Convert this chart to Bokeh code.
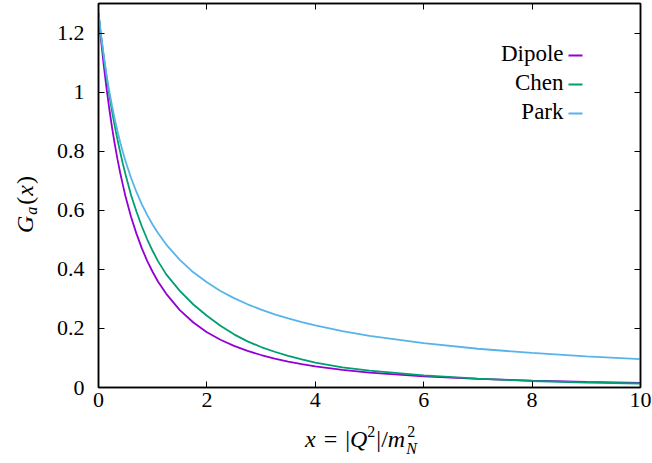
from bokeh.plotting import figure
from bokeh.models import Range1d, LinearAxis, FixedTicker, Label, BoxAnnotation, Div
from bokeh.layouts import column, row
from bokeh.embed import file_html
from bokeh.resources import INLINE

# ---------------- data ----------------
x_vals = [0, 0.05, 0.1, 0.15, 0.2, 0.25, 0.3, 0.35, 0.4, 0.45, 0.5, 0.6, 0.7,
          0.8, 0.9, 1.0, 1.1, 1.25, 1.5, 1.75, 2.0, 2.25, 2.5, 2.75, 3.0, 3.25,
          3.5, 3.75, 4.0, 4.5, 5.0, 6.0, 7.0, 8.0, 9.0, 10.0]
dipole = [1.267, 1.171, 1.086, 1.010, 0.942, 0.880, 0.824, 0.773, 0.727, 0.685,
          0.646, 0.578, 0.521, 0.471, 0.428, 0.391, 0.358, 0.317, 0.262, 0.220,
          0.187, 0.1616, 0.141, 0.1237, 0.110, 0.0978, 0.0877, 0.0792, 0.0718,
          0.0598, 0.0507, 0.0377, 0.0291, 0.0231, 0.0188, 0.0156]
chen = [1.267, 1.185, 1.115, 1.048, 0.990, 0.935, 0.885, 0.839, 0.797, 0.757,
        0.720, 0.652, 0.596, 0.545, 0.501, 0.462, 0.427, 0.383, 0.327, 0.281,
        0.243, 0.209, 0.180, 0.156, 0.137, 0.121, 0.107, 0.095, 0.084,
        0.068, 0.057, 0.041, 0.030, 0.022, 0.017, 0.0135]
park = [1.267, 1.188, 1.119, 1.057, 1.002, 0.953, 0.908, 0.8675, 0.830, 0.7965,
        0.765, 0.710, 0.662, 0.620, 0.5836, 0.551, 0.522, 0.484, 0.432, 0.390,
        0.356, 0.3269, 0.3025, 0.2817, 0.2636, 0.2477, 0.2337, 0.2212, 0.210,
        0.191, 0.1747, 0.150, 0.1312, 0.117, 0.1052, 0.0958]
series_names = ["Dipole", "Chen", "Park"]
series_colors = ["#9400d3", "#009e73", "#56b4e9"]

x_ticks = [0, 2, 4, 6, 8, 10]
x_tick_labels = ["0", "2", "4", "6", "8", "10"]
y_ticks = [0, 0.2, 0.4, 0.6, 0.8, 1, 1.2]
y_tick_labels = ["0", "0.2", "0.4", "0.6", "0.8", "1", "1.2"]

# ---------------- geometry (picture pixels) ----------------
W, H = 652, 463
YLAB_W = 40              # column holding the rotated y label
FIG_H = 428              # figure height; x label strip below
FX0, FX1, FY0, FY1 = 98, 640, 387, 3
XMAX, YMAX = 10.0, 1.3


def dx(px):
    return (px - FX0) / (FX1 - FX0) * XMAX


def dy(py):
    return (FY0 - py) / (FY0 - FY1) * YMAX


SERIF = "Liberation Serif"

p = figure(width=W - YLAB_W, height=FIG_H, x_range=Range1d(0, XMAX),
           y_range=Range1d(0, YMAX), output_backend="svg", toolbar_location=None,
           min_border_left=FX0 - YLAB_W, min_border_right=W - FX1, min_border_top=FY1,
           min_border_bottom=FIG_H - FY0, margin=(0, 0, 0, 0))
p.background_fill_color = "white"
p.border_fill_color = "white"
p.outline_line_color = "black"
p.outline_line_width = 1.5
p.grid.visible = False

p.add_layout(LinearAxis(), "above")
p.add_layout(LinearAxis(), "right")

for ax in p.xaxis:
    ax.ticker = FixedTicker(ticks=x_ticks)
    ax.major_label_overrides = {t: l for t, l in zip(x_ticks, x_tick_labels)}
for ax in p.yaxis:
    ax.ticker = FixedTicker(ticks=y_ticks)
    ax.major_label_overrides = {t: l for t, l in zip(y_ticks, y_tick_labels)}

for ax in p.xaxis + p.yaxis:
    ax.axis_line_color = "black"
    ax.axis_line_width = 1.5
    ax.major_tick_line_color = "black"
    ax.major_tick_line_width = 1
    ax.major_tick_in = 6
    ax.major_tick_out = 0
    ax.minor_tick_line_color = None
    ax.major_label_text_font = SERIF
    ax.major_label_text_font_size = "22px"
    ax.major_label_text_color = "black"

p.xaxis[0].major_label_standoff = 12
p.yaxis[0].major_label_standoff = 14
for ax in (p.above[0], p.right[0]):
    ax.major_label_text_font_size = "1px"
    ax.major_label_text_color = None
    ax.major_label_standoff = 0

# ---------------- curves ----------------
for ys, col in zip([dipole, chen, park], series_colors):
    p.line(x_vals, ys, line_color=col, line_width=1.8)

# ---------------- legend (text right, sample to the right) ----------------
leg_base = [53, 82, 111]
leg_line = [55, 84, 113]
for name, col, yb, yl in zip(series_names, series_colors, leg_base, leg_line):
    p.add_layout(Label(x=dx(563), y=dy(yb), text=name, text_font=SERIF,
                       text_font_size="23px", text_align="right",
                       text_baseline="alphabetic", text_color="black"))
    p.add_layout(BoxAnnotation(left=dx(568), right=dx(582), bottom=dy(yl + 0.9),
                               top=dy(yl - 0.9), fill_color=col, fill_alpha=1,
                               line_color=None))

# ---------------- axis titles as real HTML text ----------------
font_css = "font-family:'Liberation Serif',serif;color:black;white-space:nowrap;"

x_html = (
    '<div style="' + font_css + 'font-size:24px;line-height:22px;'
    'padding-left:305px;padding-top:0px;">'
    '<i>x</i><span style="margin:0 8px 0 8px;">=</span>|<i>Q</i>'
    '<span style="position:relative;top:-10px;font-size:16px;">2</span>'
    '<span style="margin-left:1px;">|/</span><i>m</i>'
    '<span style="display:inline-block;position:relative;width:12px;height:0;">'
    '<span style="position:absolute;left:2px;top:-23px;font-size:16px;line-height:16px;">2</span>'
    '<span style="position:absolute;left:1px;top:-6px;font-size:16px;line-height:16px;'
    'font-style:italic;">N</span></span></div>'
)
xdiv = Div(text=x_html, width=W, height=H - FIG_H, margin=(0, 0, 0, 0))

y_html = (
    '<div style="width:' + str(FIG_H) + 'px;height:' + str(YLAB_W) + 'px;'
    'transform-origin:0 0;transform:translate(0px,' + str(FIG_H) + 'px) rotate(-90deg);">'
    '<div style="' + font_css + 'font-size:24px;line-height:22px;'
    'padding-left:' + str(FIG_H - 233) + 'px;padding-top:14px;">'
    '<i>G</i><span style="position:relative;top:4px;font-size:16px;font-style:italic;'
    'margin-left:1px;margin-right:2px;">a</span>(<i style="margin:0 1px;">x</i>)</div></div>'
)
ydiv = Div(text=y_html, width=YLAB_W, height=FIG_H, margin=(0, 0, 0, 0))

layout = column(row(ydiv, p, spacing=0), xdiv, spacing=0)

open("out.html", "w").write(file_html(layout, INLINE))
